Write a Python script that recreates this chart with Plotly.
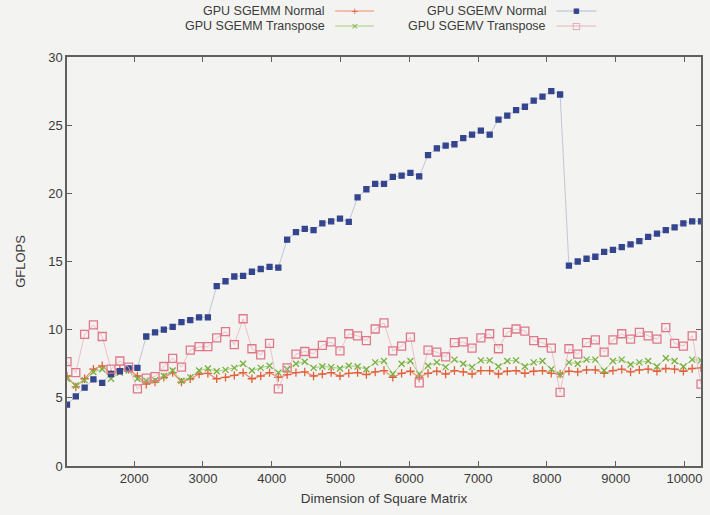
import plotly.graph_objects as go

# Matrix dimensions (step of 128)
sizes = list(range(1024, 10241, 128))

sgemm_normal = [
    6.6, 5.8, 6.4, 7.1, 7.35, 6.75, 7.1, 7.1, 6.6,
    6.0, 6.15, 6.5, 6.85, 6.15, 6.4, 6.75, 6.8,
    6.4, 6.5, 6.65, 6.85, 6.4, 6.6, 6.85, 6.5,
    6.7, 6.85, 6.9, 6.6, 6.75, 6.85, 6.6, 6.8,
    6.85, 6.7, 6.9, 7.0, 6.5, 6.8, 6.95, 6.5,
    6.8, 6.95, 6.75, 7.0, 6.9, 6.75, 7.0, 7.0,
    6.75, 6.95, 7.0, 6.8, 6.95, 7.0, 6.8, 6.75,
    6.95, 6.9, 7.05, 7.05, 6.8, 7.0, 7.1, 6.9, 7.05, 7.1, 6.95, 7.15, 7.1, 6.95, 7.15, 7.2,
]

sgemm_transpose = [
    6.4, 5.9, 6.3, 6.9, 7.1, 6.4, 6.85, 7.0, 6.4,
    6.25, 6.3, 6.6, 7.0, 6.25, 6.5, 7.0, 7.15,
    6.95, 7.05, 7.2, 7.5, 7.0, 7.2, 7.35, 6.85,
    7.1, 7.5, 7.65, 7.2, 7.3, 7.25, 7.15, 7.35,
    7.3, 7.1, 7.6, 7.7, 6.75, 7.5, 7.7, 6.75,
    7.35, 7.6, 7.25, 7.8, 7.5, 7.25, 7.75, 7.75,
    7.3, 7.7, 7.75, 7.3, 7.6, 7.7, 7.1, 6.7,
    7.6, 7.5, 7.8, 7.8, 7.0, 7.7, 7.8, 7.45, 7.6, 7.7, 7.3, 7.9, 7.7, 7.3, 7.8, 7.75,
]

sgemv_normal = [
    4.5, 5.1, 5.75, 6.35, 6.1, 6.75, 6.95, 7.15, 7.2,
    9.5, 9.8, 10.0, 10.2, 10.55, 10.7, 10.9, 10.9,
    13.2, 13.55, 13.9, 13.95, 14.25, 14.45, 14.6, 14.55,
    16.6, 17.15, 17.4, 17.3, 17.8, 17.95, 18.15, 17.9,
    19.7, 20.3, 20.7, 20.7, 21.2, 21.3, 21.5, 21.25,
    22.8, 23.3, 23.5, 23.6, 24.05, 24.3, 24.6, 24.3,
    25.4, 25.7, 26.1, 26.35, 26.8, 27.1, 27.5, 27.25,
    14.7, 15.0, 15.2, 15.35, 15.7, 15.85, 16.05, 16.25, 16.5, 16.8, 17.05, 17.3, 17.5, 17.8, 17.95, 17.95,
]

sgemv_transpose = [
    7.65, 6.85, 9.65, 10.35, 9.5, 7.1, 7.7, 7.25, 5.65,
    6.45, 6.55, 7.3, 7.9, 7.25, 8.5, 8.75, 8.75,
    9.4, 9.85, 8.9, 10.8, 8.6, 8.15, 9.0, 5.65,
    7.2, 8.2, 8.4, 8.25, 8.85, 9.1, 8.45, 9.7,
    9.55, 9.2, 10.05, 10.5, 8.45, 8.8, 9.45, 6.1,
    8.5, 8.35, 8.0, 9.05, 9.1, 8.65, 9.4, 9.7,
    8.6, 9.8, 10.05, 9.9, 9.2, 9.05, 8.65, 5.4,
    8.6, 8.2, 9.05, 9.25, 8.35, 9.25, 9.7, 9.3, 9.8, 9.55, 9.3, 10.15, 9.0, 8.8, 9.55, 6.0,
]

x_ticks = [2000, 3000, 4000, 5000, 6000, 7000, 8000, 9000, 10000]
x_tick_text = ["2000", "3000", "4000", "5000", "6000", "7000", "8000", "9000", "10000"]
y_ticks = [0, 5, 10, 15, 20, 25, 30]

series = [
    # name, values, line colour, marker colour, symbol, size, line width
    ("GPU SGEMM Normal", sgemm_normal, "#ec8a6a", "#e0603c", "cross-thin-open", 6, 1.2),
    ("GPU SGEMM Transpose", sgemm_transpose, "#a8d078", "#78b040", "x-thin-open", 6, 1.0),
    ("GPU SGEMV Normal", sgemv_normal, "#b4bad2", "#34458e", "square", 5, 0.8),
    ("GPU SGEMV Transpose", sgemv_transpose, "#eab4bc", "#e0788a", "square-open", 8, 0.8),
]

BG = "#f3f3f1"
FONT = "Liberation Sans, Arial, sans-serif"
W, H = 710, 515
ML, MR, MT, MB = 67, 7, 57, 49

fig = go.Figure()
for name, vals, lc, mc, sym, size, lw in series:
    fig.add_trace(go.Scatter(
        x=sizes, y=vals, name=name, mode="lines+markers",
        line=dict(color=lc, width=lw),
        marker=dict(symbol=sym, size=size, color=mc,
                    line=dict(color=mc, width=1.3)),
        showlegend=False,
    ))

# Legend drawn as text to the left of each line sample
def px_x(p):
    return (p - ML) / (W - ML - MR)

def px_y(p):
    return (H - MB - p) / (H - MT - MB)

legend_cols = [(327, 336, 375), (549, 558, 598)]
legend_rows = [11, 26]
legend_glyph = {"cross-thin-open": "+", "x-thin-open": "×", "square": "■", "square-open": "□"}
order = [(0, 0, 0), (1, 1, 0), (2, 0, 1), (3, 1, 1)]  # series index, row, col
for si, row, col in order:
    name, _, lc, mc, sym, _, _ = series[si]
    tx, l0, l1 = legend_cols[col]
    ty = legend_rows[row]
    fig.add_annotation(x=px_x(tx), y=px_y(ty), xref="paper", yref="paper",
                       text=name, showarrow=False, xanchor="right", yanchor="middle",
                       borderpad=0,
                       font=dict(family=FONT, size=12.5, color="#3a3a3a"))
    fig.add_shape(type="line", xref="paper", yref="paper",
                  x0=px_x(l0), x1=px_x(l1), y0=px_y(ty), y1=px_y(ty),
                  line=dict(color=lc, width=1))
    fig.add_annotation(x=px_x((l0 + l1) / 2), y=px_y(ty), xref="paper", yref="paper",
                       text=legend_glyph[sym], showarrow=False,
                       xanchor="center", yanchor="middle", borderpad=0,
                       font=dict(family="DejaVu Sans", size=9 if sym != "square" else 7, color=mc))

axis_common = dict(
    showline=True, linecolor="#606060", linewidth=1.5, mirror="ticks",
    ticks="inside", ticklen=5, tickcolor="#606060", tickwidth=1.2,
    showgrid=False, zeroline=False,
    tickfont=dict(family=FONT, size=13, color="#3a3a3a"),
)

fig.update_layout(
    width=W, height=H,
    margin=dict(l=ML, r=MR, t=MT, b=MB),
    paper_bgcolor=BG, plot_bgcolor=BG,
    xaxis=dict(range=[1024, 10240], tickvals=x_ticks, ticktext=x_tick_text,
               title=dict(text="Dimension of Square Matrix", standoff=8,
                          font=dict(family=FONT, size=13.5, color="#3a3a3a")),
               **axis_common),
    yaxis=dict(range=[0, 30], tickvals=y_ticks,
               title=dict(text="GFLOPS", standoff=20,
                          font=dict(family=FONT, size=13, color="#3a3a3a")),
               **axis_common),
)

fig.write_html("out.html")
